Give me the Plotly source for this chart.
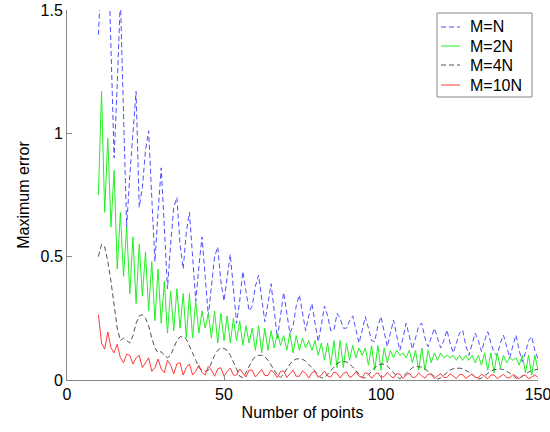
import plotly.graph_objects as go

N = list(range(10, 151))

err_M1 = [1.40, 1.75, 1.95, 1.80, 1.35, 0.90, 1.20, 1.55, 1.08, 0.62,
          0.83, 1.00, 1.17, 0.70, 0.78, 0.93, 1.01, 0.74, 0.48, 0.68,
          0.86, 0.62, 0.37, 0.55, 0.70, 0.74, 0.55, 0.45, 0.60, 0.68,
          0.50, 0.32, 0.46, 0.58, 0.42, 0.26, 0.38, 0.50, 0.54, 0.40,
          0.32, 0.42, 0.51, 0.37, 0.23, 0.32, 0.44, 0.36, 0.28, 0.30,
          0.38, 0.425, 0.33, 0.236, 0.31, 0.39, 0.28, 0.17, 0.26, 0.355,
          0.27, 0.19, 0.22, 0.30, 0.345, 0.27, 0.20, 0.26, 0.31, 0.23,
          0.155, 0.22, 0.30, 0.26, 0.20, 0.20, 0.27, 0.25, 0.21, 0.21,
          0.24, 0.26, 0.20, 0.15, 0.20, 0.257, 0.21, 0.16, 0.155, 0.22,
          0.257, 0.19, 0.135, 0.19, 0.243, 0.18, 0.12, 0.17, 0.23, 0.18,
          0.125, 0.17, 0.22, 0.23, 0.17, 0.135, 0.17, 0.21, 0.17, 0.13,
          0.16, 0.203, 0.15, 0.11, 0.15, 0.19, 0.203, 0.14, 0.10, 0.15,
          0.19, 0.16, 0.115, 0.16, 0.196, 0.15, 0.11, 0.10, 0.15, 0.182,
          0.13, 0.09, 0.14, 0.182, 0.12, 0.074, 0.11, 0.16, 0.176, 0.12,
          0.085]

err_M2 = [0.75, 1.17, 0.68, 0.98, 0.62, 0.85, 0.45, 0.68, 0.42, 0.62,
          0.35, 0.58, 0.31, 0.55, 0.34, 0.52, 0.28, 0.48, 0.24, 0.45,
          0.23, 0.40, 0.19, 0.36, 0.20, 0.37, 0.21, 0.35, 0.17, 0.35,
          0.17, 0.32, 0.19, 0.28, 0.21, 0.27, 0.17, 0.28, 0.15, 0.27,
          0.16, 0.26, 0.15, 0.25, 0.16, 0.24, 0.14, 0.22, 0.15, 0.21,
          0.12, 0.22, 0.11, 0.21, 0.12, 0.20, 0.13, 0.19, 0.14, 0.18,
          0.12, 0.19, 0.11, 0.18, 0.12, 0.17, 0.13, 0.16, 0.12, 0.16,
          0.10, 0.15, 0.08, 0.15, 0.06, 0.16, 0.05, 0.16, 0.05, 0.15,
          0.08, 0.14, 0.09, 0.13, 0.10, 0.13, 0.06, 0.14, 0.04, 0.14,
          0.04, 0.13, 0.07, 0.12, 0.09, 0.12, 0.10, 0.11, 0.09, 0.12,
          0.07, 0.12, 0.04, 0.13, 0.04, 0.12, 0.07, 0.11, 0.08, 0.11,
          0.09, 0.10, 0.09, 0.10, 0.08, 0.10, 0.08, 0.10, 0.08, 0.10,
          0.07, 0.10, 0.06, 0.11, 0.04, 0.11, 0.03, 0.11, 0.05, 0.10,
          0.07, 0.09, 0.08, 0.09, 0.06, 0.10, 0.03, 0.10, 0.02, 0.10,
          0.04]

err_M4 = [0.50, 0.55, 0.54, 0.48, 0.40, 0.30, 0.21, 0.16, 0.17, 0.16,
          0.15, 0.18, 0.23, 0.26, 0.265, 0.25, 0.22, 0.17, 0.13, 0.11,
          0.115, 0.10, 0.09, 0.10, 0.13, 0.16, 0.175, 0.175, 0.165, 0.14,
          0.11, 0.08, 0.05, 0.04, 0.035, 0.04, 0.07, 0.10, 0.12, 0.13,
          0.128, 0.12, 0.10, 0.075, 0.045, 0.015, 0.01, 0.03, 0.055, 0.08,
          0.095, 0.10, 0.10, 0.095, 0.08, 0.06, 0.04, 0.02, 0.01, 0.025,
          0.045, 0.065, 0.078, 0.085, 0.086, 0.084, 0.077, 0.065, 0.05, 0.035,
          0.02, 0.008, 0.01, 0.025, 0.04, 0.055, 0.066, 0.073, 0.075, 0.073,
          0.065, 0.053, 0.04, 0.025, 0.01, 0.008, 0.02, 0.035, 0.05, 0.06,
          0.065, 0.064, 0.057, 0.045, 0.03, 0.015, 0.005, 0.015, 0.028, 0.04,
          0.05, 0.055, 0.055, 0.052, 0.045, 0.035, 0.024, 0.012, 0.004, 0.008,
          0.02, 0.031, 0.04, 0.046, 0.048, 0.048, 0.046, 0.04, 0.032, 0.022,
          0.012, 0.004, 0.008, 0.018, 0.028, 0.036, 0.042, 0.045, 0.045, 0.042,
          0.036, 0.028, 0.018, 0.008, 0.006, 0.015, 0.024, 0.032, 0.038, 0.042,
          0.044]

err_M10 = [0.265, 0.15, 0.125, 0.195, 0.13, 0.11, 0.145, 0.09, 0.07, 0.105,
           0.10, 0.065, 0.09, 0.10, 0.05, 0.07, 0.09, 0.035, 0.05, 0.085,
           0.045, 0.03, 0.08, 0.06, 0.025, 0.065, 0.07, 0.02, 0.05, 0.065,
           0.02, 0.035, 0.06, 0.03, 0.02, 0.055, 0.04, 0.015, 0.045, 0.05,
           0.015, 0.035, 0.048, 0.02, 0.02, 0.045, 0.03, 0.012, 0.04, 0.04,
           0.012, 0.03, 0.043, 0.018, 0.018, 0.04, 0.028, 0.01, 0.035, 0.037,
           0.01, 0.025, 0.04, 0.015, 0.015, 0.037, 0.027, 0.008, 0.03, 0.035,
           0.01, 0.02, 0.036, 0.016, 0.012, 0.032, 0.027, 0.008, 0.026, 0.033,
           0.01, 0.017, 0.033, 0.016, 0.01, 0.03, 0.025, 0.007, 0.022, 0.03,
           0.01, 0.014, 0.03, 0.017, 0.008, 0.026, 0.024, 0.006, 0.02, 0.028,
           0.01, 0.012, 0.028, 0.017, 0.007, 0.024, 0.023, 0.006, 0.017, 0.026,
           0.01, 0.01, 0.026, 0.017, 0.006, 0.022, 0.022, 0.006, 0.015, 0.025,
           0.01, 0.009, 0.024, 0.016, 0.005, 0.02, 0.021, 0.005, 0.013, 0.023,
           0.01, 0.008, 0.022, 0.016, 0.005, 0.018, 0.02, 0.005, 0.012, 0.021,
           0.01]

series_names = ["M=N", "M=2N", "M=4N", "M=10N"]
series_values = [err_M1, err_M2, err_M4, err_M10]
x_ticks = [0, 50, 100, 150]
y_ticks = [0, 0.5, 1, 1.5]
y_tick_text = ["0", "0.5", "1", "1.5"]

FONT = "Liberation Sans, Arial, Helvetica, sans-serif"
styles = [dict(color="#4f4fff", width=1, dash="5px,3px"),
          dict(color="#22f022", width=1),
          dict(color="#505050", width=1, dash="5px,3px"),
          dict(color="#ff3a3a", width=1)]

fig = go.Figure()
for name, vals, st in zip(series_names, series_values, styles):
    fig.add_trace(go.Scatter(x=N, y=vals, mode="lines", name=name,
                             line=st, showlegend=False))

# Hand-drawn legend box (paper coordinates)
W, H, L, T = 550, 432, 67, 10
PW, PH = 471, 370
def px(xp):
    return (xp - L) / PW
def py(yp):
    return (T + PH - yp) / PH

shapes = [dict(type="rect", xref="paper", yref="paper",
               x0=px(437), x1=px(532), y0=py(97), y1=py(13),
               line=dict(color="#888888", width=1), fillcolor="white", layer="above")]
annotations = []
rows = [27, 46, 65, 85]
for name, st, ry in zip(series_names, styles, rows):
    shapes.append(dict(type="line", xref="paper", yref="paper",
                       x0=px(441), x1=px(460), y0=py(ry), y1=py(ry),
                       line=dict(color=st["color"], width=1,
                                 dash=st.get("dash", "solid")), layer="above"))
    annotations.append(dict(xref="paper", yref="paper", x=px(468), y=py(ry),
                            xanchor="left", yanchor="middle", text=name,
                            showarrow=False,
                            font=dict(family=FONT, size=16, color="black")))

fig.update_layout(
    width=W, height=H,
    margin=dict(l=L, r=W - L - PW, t=T, b=H - T - PH),
    paper_bgcolor="white", plot_bgcolor="white",
    font=dict(family=FONT, size=16, color="black"),
    showlegend=False,
    shapes=shapes, annotations=annotations,
    xaxis=dict(range=[0, 150], tickvals=x_ticks, ticktext=[str(v) for v in x_ticks],
               showgrid=False, zeroline=False, showline=True, linecolor="#888888",
               linewidth=1, ticks="inside", ticklen=5, tickcolor="#888888",
               automargin=False, ticklabeloverflow="allow",
               title=dict(text="Number of points", font=dict(size=16), standoff=4),
               tickfont=dict(size=16)),
    yaxis=dict(range=[0, 1.5], tickvals=y_ticks, ticktext=y_tick_text,
               showgrid=False, zeroline=False, showline=True, linecolor="#888888",
               linewidth=1, ticks="inside", ticklen=5, tickcolor="#888888",
               automargin=False, ticklabeloverflow="allow",
               title=dict(text="Maximum error", font=dict(size=16), standoff=6),
               tickfont=dict(size=16)),
)

fig.write_html("out.html")
